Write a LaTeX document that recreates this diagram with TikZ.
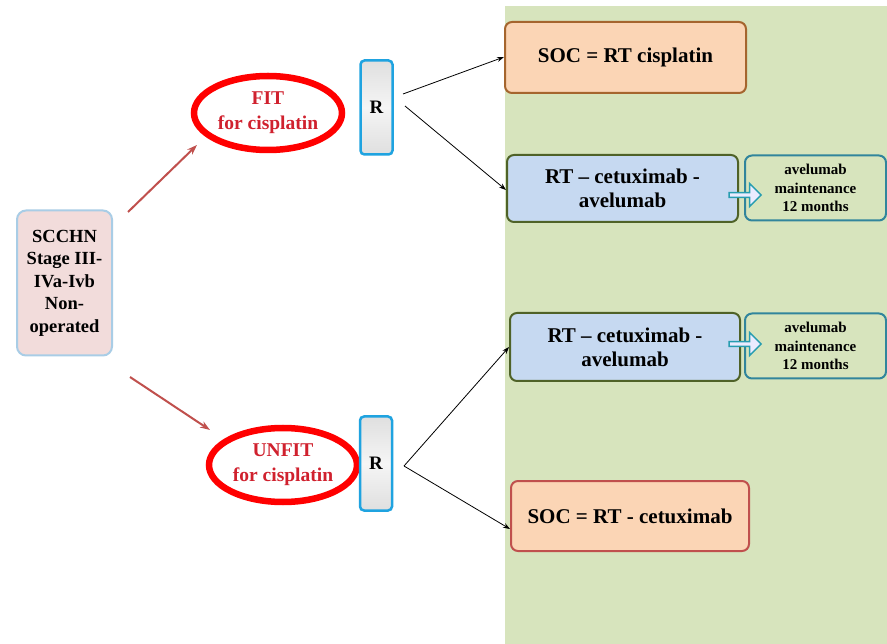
\documentclass[tikz,border=0pt]{standalone}
\usepackage{fontspec}
\setmainfont{Liberation Serif}
\usetikzlibrary{arrows.meta,shapes.geometric,shapes.arrows}
\definecolor{bggreen}{HTML}{D7E4BD}
\definecolor{peach}{HTML}{FBD5B5}
\definecolor{lblue}{HTML}{C6D9F1}
\definecolor{pinkf}{HTML}{F2DCDB}
\definecolor{pinkb}{HTML}{A9CDE6}
\definecolor{rboxb}{HTML}{1FA3E0}
\definecolor{brownb}{HTML}{A5652E}
\definecolor{redb}{HTML}{C0504D}
\definecolor{greenb}{HTML}{4F6228}
\definecolor{tealb}{HTML}{31859C}
\definecolor{textred}{HTML}{D0212E}
\definecolor{arrred}{HTML}{C0504D}
\tikzset{
  treat/.style={draw, rounded corners=7pt, line width=2pt, minimum width=#1, align=center, font=\bfseries\fontsize{21}{24}\selectfont, inner sep=2pt},
  maint/.style={draw=tealb, fill=bggreen, rounded corners=7pt, line width=2pt, minimum width=141pt, minimum height=65pt, align=center, font=\bfseries\fontsize{15}{18.5}\selectfont, inner sep=1pt},
  rbox/.style={draw=rboxb, line width=2.5pt, rounded corners=4pt, minimum width=32pt, minimum height=94pt, top color=gray!25, bottom color=gray!25, middle color=gray!8, font=\bfseries\fontsize{19}{21}\selectfont},
  fitell/.style={ellipse, draw=red, line width=6.5pt, minimum width=148pt, minimum height=74pt, align=center, text=textred, font=\bfseries\fontsize{19.5}{25}\selectfont, inner sep=0pt},
  redarr/.style={-{Stealth[length=10pt,width=7pt]}, draw=arrred, line width=2pt},
  blkarr/.style={-{Stealth[length=7pt,width=5pt]}, line width=0.8pt},
  blockarr/.style={single arrow, draw=tealb!80!cyan, fill=blue!8, line width=1.5pt, minimum height=32pt, minimum width=23pt, single arrow head extend=3pt, inner sep=0pt, shape border rotate=0}
}
\begin{document}
\begin{tikzpicture}[x=1pt,y=-1pt]
\useasboundingbox (0,0) rectangle (887,644);
\fill[white] (0,0) rectangle (887,644);
\fill[bggreen] (505,6) rectangle (887,644);
% source box
\node[draw=pinkb, fill=pinkf, line width=2pt, rounded corners=9pt, minimum width=95pt, minimum height=145pt, align=center, font=\bfseries\fontsize{18.5}{22.5}\selectfont, inner sep=0pt] (src) at (64.5,283) {SCCHN\\Stage III-\\IVa-Ivb\\Non-\\operated};
% ellipses
\node[fitell] (fit) at (268,113) {FIT\\for cisplatin};
\node[fitell] (unfit) at (283,465) {UNFIT\\for cisplatin};
% R boxes
\node[rbox] (r1) at (376.5,107.5) {R};
\node[rbox] (r2) at (376,463.5) {R};
% treatment boxes
\node[treat=241pt, draw=brownb, fill=peach, minimum height=71pt] (soc1) at (625.5,57.5) {SOC = RT cisplatin};
\node[treat=231pt, draw=greenb, fill=lblue, minimum height=67pt] (rtc1) at (622.5,188.5) {RT -- cetuximab -\\avelumab};
\node[maint] (m1) at (815.5,188) {avelumab\\maintenance\\12 months};
\node[treat=230pt, draw=greenb, fill=lblue, minimum height=68pt] (rtc2) at (625,347) {RT -- cetuximab -\\avelumab};
\node[maint] (m2) at (815.5,346) {avelumab\\maintenance\\12 months};
\node[treat=238pt, draw=redb, fill=peach, minimum height=70pt] (soc2) at (630,516) {SOC = RT - cetuximab};
% block arrows
\node[blockarr] (ba1) at (744,195) {};
\node[blockarr] (ba2) at (744,344) {};
% arrows
\coordinate (s1) at (128,212);
\coordinate (s2) at (130,377);
\draw[redarr] (s1) -- (197,145);
\draw[redarr] (s2) -- (210,430);
\coordinate (o1) at (403,94);
\coordinate (o2) at (405,106);
\coordinate (o3) at (404,466);
\draw[blkarr] (o1) -- (soc1.west |- 0,57);
\draw[blkarr] (o2) -- (rtc1.west |- 0,190);
\draw[blkarr] (o3) -- (rtc2.west |- 0,347);
\draw[blkarr] (o3) -- (soc2.west |- 0,529);
\end{tikzpicture}
\end{document}
